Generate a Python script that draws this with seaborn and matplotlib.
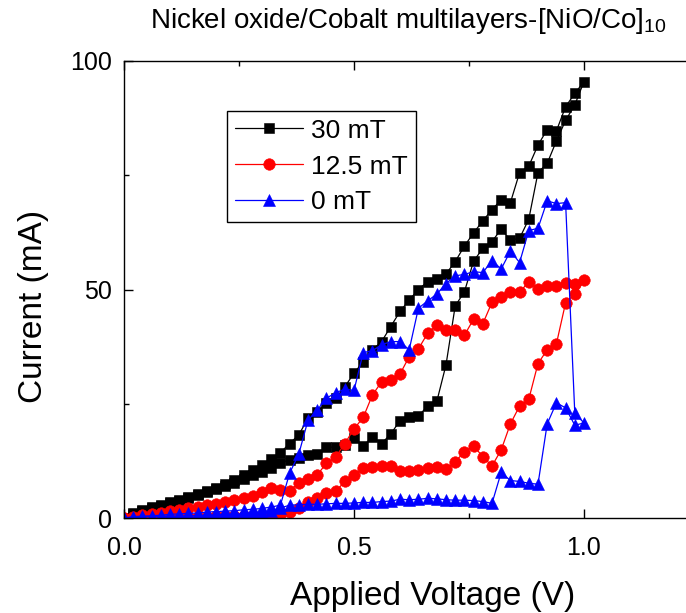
import numpy as np
import pandas as pd
import matplotlib
matplotlib.use("Agg")
import matplotlib.pyplot as plt
from matplotlib.ticker import MultipleLocator
import seaborn as sns

# ---------------- data ----------------
voltage = [0.00, 0.02, 0.04, 0.06, 0.08, 0.10, 0.12, 0.14, 0.16, 0.18,
           0.20, 0.22, 0.24, 0.26, 0.28, 0.30, 0.32, 0.34, 0.36, 0.38,
           0.40, 0.42, 0.44, 0.46, 0.48, 0.50, 0.52, 0.54, 0.56, 0.58,
           0.60, 0.62, 0.64, 0.66, 0.68, 0.70, 0.72, 0.74, 0.76, 0.78,
           0.80, 0.82, 0.84, 0.86, 0.88, 0.90, 0.92, 0.94, 0.96, 0.98, 1.00]

labels = ["30 mT", "12.5 mT", "0 mT"]

# forward sweep (0 -> 1 V), lower branch
i30_fwd = [0.0, 0.8, 1.5, 2.1, 2.7, 3.2, 3.8, 4.4, 5.0, 5.6,
           6.3, 7.0, 7.7, 8.5, 9.3, 10.1, 11.0, 12.0, 12.8, 13.2,
           13.8, 13.9, 15.5, 15.5, 16.0, 17.4, 15.8, 17.7, 16.3, 18.4,
           21.3, 22.0, 22.3, 24.5, 25.5, 33.5, 46.4, 49.5, 56.2, 59.0,
           60.5, 63.2, 60.8, 61.2, 65.4, 75.6, 77.6, 82.5, 87.0, 90.4, 95.5]
# backward sweep (listed at the same voltages, 0 -> 1 V), upper branch
i30_bwd = [0.0, 1.0, 1.7, 2.3, 2.8, 3.4, 4.0, 4.6, 5.2, 5.9,
           6.6, 7.4, 8.3, 9.3, 10.4, 11.6, 13.0, 14.3, 16.3, 18.2,
           21.8, 23.3, 25.1, 26.2, 28.7, 31.7, 34.2, 36.8, 38.6, 41.9,
           45.2, 47.7, 50.0, 51.7, 52.4, 53.4, 56.1, 59.5, 62.4, 65.0,
           67.5, 69.6, 69.0, 75.6, 77.0, 81.6, 85.0, 84.7, 90.0, 92.9, 95.5]

i125_fwd = [0.0, 0.1, 0.1, 0.2, 0.2, 0.2, 0.3, 0.3, 0.3, 0.3,
            0.4, 0.4, 0.4, 0.4, 0.5, 0.5, 0.4, 0.6, 1.4, 2.1,
            3.6, 4.3, 5.4, 5.8, 8.0, 9.4, 10.9, 11.1, 11.4, 11.4,
            10.2, 10.2, 10.5, 11.0, 11.2, 10.7, 12.3, 14.5, 15.8, 13.4,
            11.4, 14.9, 20.6, 24.5, 26.0, 33.8, 36.8, 38.1, 47.1, 49.0, 52.0]
i125_bwd = [0.0, 0.3, 0.6, 0.9, 1.2, 1.5, 1.8, 2.1, 2.4, 2.8,
            3.1, 3.5, 3.9, 4.3, 4.8, 5.6, 6.5, 6.1, 6.0, 7.6,
            8.5, 9.4, 12.0, 13.3, 16.3, 19.5, 22.0, 26.9, 29.8, 30.2,
            31.5, 35.3, 37.0, 40.4, 42.2, 41.1, 41.1, 40.0, 43.5, 42.5,
            47.2, 48.4, 49.5, 49.4, 51.7, 50.1, 50.8, 50.8, 51.5, 51.3, 52.0]

i0_fwd = [0.0, 0.1, 0.2, 0.3, 0.3, 0.4, 0.4, 0.5, 0.5, 0.6,
          0.6, 0.7, 0.8, 0.9, 1.0, 1.2, 1.5, 2.2, 2.8, 2.9,
          3.0, 3.0, 3.1, 3.2, 3.2, 3.3, 3.4, 3.4, 3.6, 3.7,
          4.1, 4.0, 4.1, 4.3, 4.2, 4.0, 3.9, 3.9, 3.8, 3.6,
          3.2, 10.0, 8.2, 8.0, 7.6, 7.4, 20.6, 25.2, 24.1, 20.3, 20.8]
i0_bwd = [0.0, 0.3, 0.4, 0.5, 0.6, 0.8, 0.9, 1.0, 1.1, 1.3,
          1.4, 1.5, 1.6, 1.8, 1.9, 2.1, 2.4, 2.8, 9.8, 14.0,
          21.4, 23.6, 26.2, 27.4, 28.2, 27.9, 36.2, 36.6, 37.9, 38.6,
          38.6, 36.8, 45.9, 47.5, 49.0, 51.3, 53.0, 53.3, 53.9, 53.7,
          56.3, 54.5, 58.4, 55.9, 62.9, 63.4, 69.4, 68.8, 69.0, 22.9, 20.8]

xticks = [0.0, 0.5, 1.0]
xticklabels = ["0.0", "0.5", "1.0"]
yticks = [0, 50, 100]
yticklabels = ["0", "50", "100"]

# ---------------- style ----------------
sns.set_theme(style="ticks")
plt.rcParams["font.family"] = ["Liberation Sans", "DejaVu Sans"]
plt.rcParams["mathtext.default"] = "regular"
plt.rcParams["text.color"] = "black"
plt.rcParams["axes.labelcolor"] = "black"
plt.rcParams["xtick.color"] = "black"
plt.rcParams["ytick.color"] = "black"

fig = plt.figure(figsize=(6.86, 6.13), dpi=100)
ax = fig.add_axes([124 / 686, 1 - 518 / 613, 575 / 686, 457 / 613])

styles = [
    (labels[0], i30_fwd, i30_bwd, "black", "s", 7.6),
    (labels[1], i125_fwd, i125_bwd, "red", "o", 8.3),
    (labels[2], i0_fwd, i0_bwd, "blue", "^", 9.0),
]

for lab, fwd, bwd, col, mk, ms in styles:
    v_loop = voltage + voltage[::-1][1:]
    i_loop = fwd + bwd[::-1][1:]
    df = pd.DataFrame({"V": v_loop, "I": i_loop})
    sns.lineplot(data=df, x="V", y="I", sort=False, estimator=None,
                 color=col, marker=mk, markersize=ms, markeredgecolor=col,
                 markeredgewidth=0.4, linewidth=0.9, label=lab, ax=ax)

ax.set_xlim(0, 1.25)
ax.set_ylim(0, 100)
ax.set_xticks(xticks)
ax.set_xticklabels(xticklabels)
ax.set_yticks(yticks)
ax.set_yticklabels(yticklabels)
ax.xaxis.set_minor_locator(MultipleLocator(0.25))
ax.yaxis.set_minor_locator(MultipleLocator(25))

ax.tick_params(which="both", direction="in", top=True, right=False,
               color="black", labelcolor="black", width=1.0)
ax.tick_params(which="major", length=6.5)
ax.tick_params(which="minor", length=3.5)
ax.tick_params(axis="x", which="major", labelsize=18, pad=13)
ax.tick_params(axis="y", which="major", labelsize=18, pad=8.5)

for sp in ax.spines.values():
    sp.set_color("black")
    sp.set_linewidth(1.0)
ax.spines["right"].set_visible(False)

ax.set_xlabel("Applied Voltage (V)", fontsize=24, va="center", color="black")
ax.xaxis.set_label_coords(0.537, -0.171)
ax.set_ylabel("Current (mA)", fontsize=24, va="center", color="black")
ax.yaxis.set_label_coords(-0.157, 0.462)

leg = ax.legend(loc="upper left", bbox_to_anchor=(0.179, 0.891),
                borderaxespad=0, fontsize=19, frameon=True, fancybox=False,
                framealpha=1, edgecolor="black", borderpad=0.3,
                labelspacing=0.45, handlelength=2.6, handletextpad=0.3)
leg.get_frame().set_linewidth(1.0)
for t in leg.get_texts():
    t.set_color("black")

fig.text(150 / 686, 1 - 27.5 / 613,
         "Nickel oxide/Cobalt multilayers-[NiO/Co]$_{10}$",
         fontsize=20, ha="left", va="baseline", color="black")

fig.savefig("out.png", dpi=100)
